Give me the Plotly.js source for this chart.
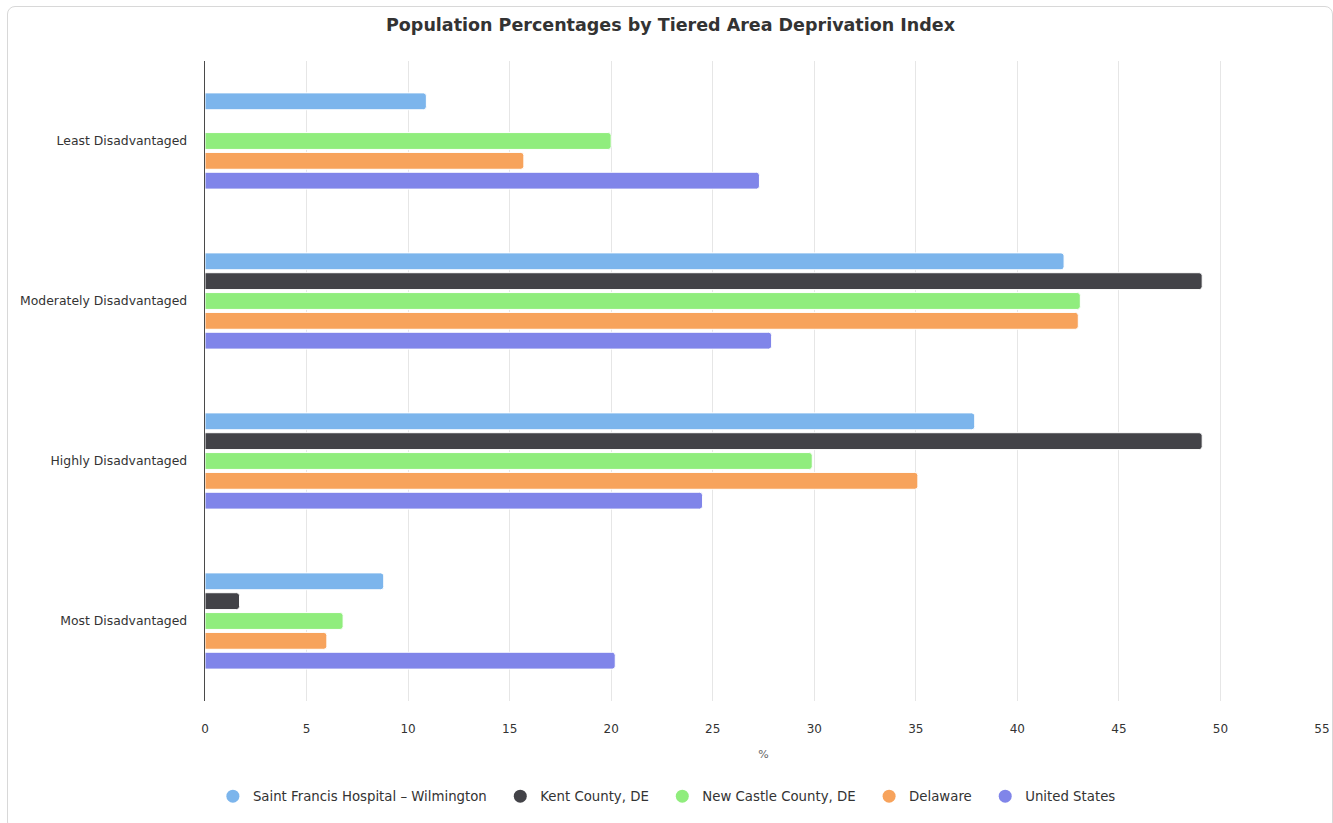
<!DOCTYPE html>
<html><head><meta charset="utf-8">
<script src="https://cdn.plot.ly/plotly-3.0.1.min.js"></script>
<style>
html,body{margin:0;padding:0;background:#fff;}
#chart{position:absolute;left:0;top:0;width:1333px;height:823px;}
#frame{position:absolute;left:7px;top:6px;width:1324px;height:822px;border:1px solid #d8d8d8;border-radius:8px;pointer-events:none;}
</style></head>
<body>
<div id="chart"></div><div id="frame"></div>
<script>
const categories = ["Least Disadvantaged","Moderately Disadvantaged","Highly Disadvantaged","Most Disadvantaged"];
const seriesNames = ["Saint Francis Hospital – Wilmington","Kent County, DE","New Castle County, DE","Delaware","United States"];
const saintFrancis = [10.9, 42.3, 37.9, 8.8];
const kentCounty = [0, 49.1, 49.1, 1.7];
const newCastle = [20.0, 43.1, 29.9, 6.8];
const delaware = [15.7, 43.0, 35.1, 6.0];
const unitedStates = [27.3, 27.9, 24.5, 20.2];
const colors = ["#7cb5ec","#434348","#90ed7d","#f7a35c","#8085e9"];
const values = [saintFrancis, kentCounty, newCastle, delaware, unitedStates];

const font = "DejaVu Sans, sans-serif";
const pad = "\u00a0\u00a0";
const traces = [];
values.forEach((v,i)=>{
  traces.push({type:'bar', orientation:'h', y:categories, x:v, name:seriesNames[i],
    marker:{color:colors[i], line:{color:'#ffffff', width:1}, cornerradius:3},
    showlegend:false, hoverinfo:'x+name'});
});
values.forEach((v,i)=>{
  traces.push({type:'scatter', mode:'markers', x:[null], y:[null], name:seriesNames[i] + (i < values.length-1 ? pad : ''),
    marker:{color:colors[i], size:13, symbol:'circle'}, showlegend:true, hoverinfo:'skip'});
});

const layout = {
  width:1333, height:823,
  margin:{l:205, r:11, t:61, b:119},
  paper_bgcolor:'rgba(0,0,0,0)', plot_bgcolor:'#fff',
  title:{text:'Population Percentages by Tiered Area Deprivation Index', x:0.503, xanchor:'center', y:0.970, yanchor:'middle',
    font:{family:font, size:17.5, color:'#333333', weight:'bold'}},
  barmode:'group', bargap:0.38, bargroupgap:0.15,
  xaxis:{range:[0,55], dtick:5, tick0:0, showgrid:true, gridcolor:'#e6e6e6', gridwidth:1, zeroline:false,
    showline:false, ticks:'', ticklabelstandoff:19, tickfont:{family:font, size:12, color:'#333333'},
    title:{text:'%', font:{family:font, size:11, color:'#666666'}, standoff:15}},
  yaxis:{type:'category', categoryorder:'array', categoryarray:categories, autorange:'reversed',
    showgrid:false, zeroline:false, showline:true, linecolor:'#4a4a4a', linewidth:1.3, ticks:'',
    ticklabelstandoff:14, tickfont:{family:font, size:12.4, color:'#333333'}},
  legend:{orientation:'h', x:0.4135, xanchor:'center', xref:'paper', y:-0.125, yanchor:'top',
    font:{family:font, size:13.3, color:'#333333'}, itemwidth:30, traceorder:'normal'},
  showlegend:true
};
Plotly.newPlot('chart', traces, layout, {displayModeBar:false, staticPlot:true});
</script>
</body></html>
